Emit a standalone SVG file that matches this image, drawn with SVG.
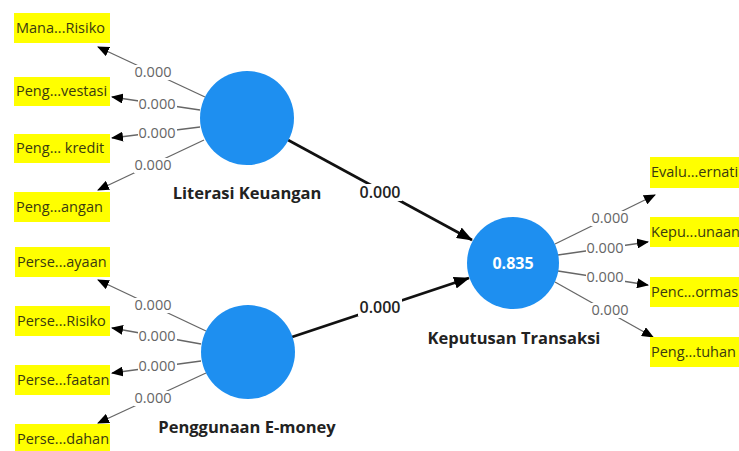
<svg xmlns="http://www.w3.org/2000/svg" width="739" height="451" viewBox="0 0 739 451">
<defs>
<marker id="ah" markerUnits="userSpaceOnUse" markerWidth="12" markerHeight="10" refX="11" refY="5" orient="auto"><path d="M0,0 L12,5 L0,10 z" fill="#000"/></marker>
<marker id="ahb" markerUnits="userSpaceOnUse" markerWidth="16" markerHeight="12" refX="15" refY="6" orient="auto"><path d="M0,0 L16,6 L0,12 z" fill="#000"/></marker>
<style>
.ind{stroke:#666;stroke-width:1.3;fill:none;marker-end:url(#ah)}
.path{stroke:#111;stroke-width:2.6;fill:none;marker-end:url(#ahb)}
.lb{fill:#fff}
.w{font-family:"Open Sans","Noto Sans",sans-serif;font-size:14.5px;fill:#666;text-anchor:middle}
.wb{font-family:"Open Sans","Noto Sans",sans-serif;font-size:16px;font-weight:600;fill:#222;text-anchor:middle}
.box{fill:#ffff00}
.bt{font-family:"Open Sans","Noto Sans",sans-serif;font-size:14.5px;fill:#3a3a10}
.lv{fill:#1e8ff0}
.lvn{font-family:"Open Sans","Noto Sans",sans-serif;font-size:16.5px;font-weight:700;fill:#222;text-anchor:middle}
.r2{font-family:"Open Sans","Noto Sans",sans-serif;font-size:16px;font-weight:700;fill:#fff;text-anchor:middle}
</style>
</defs>
<g id="connectors">
<line class="ind" x1="205" y1="97" x2="98" y2="47"/>
<line class="ind" x1="200" y1="110" x2="112" y2="97"/>
<line class="ind" x1="200" y1="127" x2="112" y2="138"/>
<line class="ind" x1="204" y1="140" x2="98" y2="190"/>
<line class="ind" x1="206" y1="331" x2="98" y2="280"/>
<line class="ind" x1="201" y1="344" x2="112" y2="328"/>
<line class="ind" x1="201" y1="361" x2="112" y2="373"/>
<line class="ind" x1="206" y1="373" x2="98" y2="423"/>
<line class="ind" x1="555" y1="244" x2="655" y2="195"/>
<line class="ind" x1="558" y1="255" x2="648" y2="242"/>
<line class="ind" x1="558" y1="271" x2="648" y2="285"/>
<line class="ind" x1="555" y1="282" x2="653" y2="337"/>
<line class="path" x1="288" y1="140" x2="472" y2="240"/>
<line class="path" x1="292" y1="337" x2="469" y2="278"/>
<rect class="lb" x="134" y="65" width="39" height="15"/><text class="w" x="153" y="77">0.000</text>
<rect class="lb" x="138" y="97" width="39" height="15"/><text class="w" x="157" y="109">0.000</text>
<rect class="lb" x="138" y="126" width="39" height="15"/><text class="w" x="157" y="138">0.000</text>
<rect class="lb" x="134" y="158" width="39" height="15"/><text class="w" x="153" y="170">0.000</text>
<rect class="lb" x="134" y="298" width="39" height="15"/><text class="w" x="153" y="310">0.000</text>
<rect class="lb" x="138" y="329" width="39" height="15"/><text class="w" x="157" y="341">0.000</text>
<rect class="lb" x="138" y="359" width="39" height="15"/><text class="w" x="157" y="371">0.000</text>
<rect class="lb" x="134" y="391" width="39" height="15"/><text class="w" x="153" y="403">0.000</text>
<rect class="lb" x="591" y="211" width="39" height="15"/><text class="w" x="610" y="223">0.000</text>
<rect class="lb" x="586" y="241" width="39" height="15"/><text class="w" x="605" y="253">0.000</text>
<rect class="lb" x="586" y="270" width="39" height="15"/><text class="w" x="605" y="282">0.000</text>
<rect class="lb" x="591" y="303" width="39" height="15"/><text class="w" x="610" y="315">0.000</text>
<rect class="lb" x="358" y="184" width="44" height="17"/><text class="wb" x="380" y="198">0.000</text>
<rect class="lb" x="358" y="299" width="44" height="17"/><text class="wb" x="380" y="313">0.000</text>
</g>
<g id="literasi-keuangan">
<circle class="lv" cx="247" cy="118" r="47"/>
<text class="lvn" x="247" y="199">Literasi Keuangan</text>
</g>
<g id="penggunaan-e-money">
<circle class="lv" cx="248" cy="352" r="47"/>
<text class="lvn" x="247" y="433">Penggunaan E-money</text>
</g>
<g id="keputusan-transaksi">
<circle class="lv" cx="513" cy="263" r="46"/>
<text class="r2" x="513" y="269">0.835</text>
<text class="lvn" x="514" y="344">Keputusan Transaksi</text>
</g>
<g id="ind-lk1"><rect class="box" x="14" y="13" width="96" height="30"/><text class="bt" x="16" y="33">Mana...Risiko</text></g>
<g id="ind-lk2"><rect class="box" x="14" y="77" width="96" height="29"/><text class="bt" x="16" y="96">Peng...vestasi</text></g>
<g id="ind-lk3"><rect class="box" x="14" y="134" width="96" height="29"/><text class="bt" x="16" y="153">Peng... kredit</text></g>
<g id="ind-lk4"><rect class="box" x="14" y="192" width="96" height="30"/><text class="bt" x="16" y="212">Peng...angan</text></g>
<g id="ind-pe1"><rect class="box" x="15" y="247" width="95" height="30"/><text class="bt" x="17" y="267">Perse...ayaan</text></g>
<g id="ind-pe2"><rect class="box" x="15" y="306" width="95" height="30"/><text class="bt" x="17" y="326">Perse...Risiko</text></g>
<g id="ind-pe3"><rect class="box" x="15" y="365" width="95" height="30"/><text class="bt" x="17" y="385">Perse...faatan</text></g>
<g id="ind-pe4"><rect class="box" x="15" y="424" width="95" height="30"/><text class="bt" x="17" y="444">Perse...dahan</text></g>
<g id="ind-kt1"><rect class="box" x="650" y="157" width="95" height="31"/><text class="bt" x="651" y="177">Evalu...ernati</text></g>
<g id="ind-kt2"><rect class="box" x="650" y="217" width="95" height="30"/><text class="bt" x="651" y="237">Kepu...unaan</text></g>
<g id="ind-kt3"><rect class="box" x="650" y="277" width="95" height="30"/><text class="bt" x="651" y="297">Penc...ormas</text></g>
<g id="ind-kt4"><rect class="box" x="650" y="337" width="95" height="30"/><text class="bt" x="651" y="357">Peng...tuhan</text></g>
</svg>
